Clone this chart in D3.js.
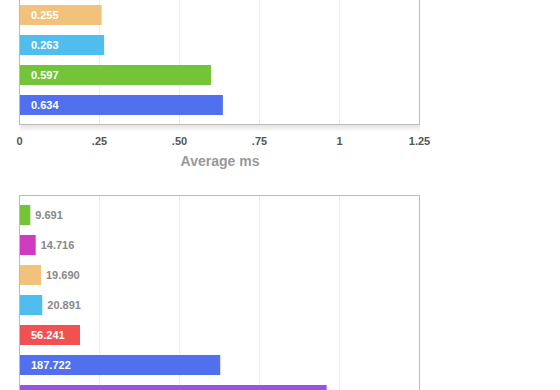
<!DOCTYPE html>
<html>
<head>
<meta charset="utf-8">
<script src="https://cdn.jsdelivr.net/npm/d3@7"></script>
<style>
  body { margin: 0; background: #fff; }
  text { font-family: "Liberation Sans", Arial, sans-serif; font-weight: bold; }
</style>
</head>
<body>
<div id="chart"></div>
<script>
// top chart (its upper bars are scrolled out of view)
var topValues = [0.255, 0.263, 0.597, 0.634];
var topColors = ["#f0c27c", "#4fbdee", "#74c43a", "#5070ee"];
var topTicks = [0, 0.25, 0.5, 0.75, 1, 1.25];
var topTickLabels = ["0", ".25", ".50", ".75", "1", "1.25"];
var axisTitle = "Average ms";

// bottom chart (cut at the bottom of the window)
var bottomValues = [9.691, 14.716, 19.690, 20.891, 56.241, 187.722, 287.5];
var bottomColors = ["#74c43a", "#d03cc0", "#f0c27c", "#4fbdee", "#f05252", "#5070ee", "#9b50e6"];
var bottomTicks = [0, 75, 150, 225, 300, 375];

var w = 560, h = 390;

var svg = d3.select("#chart")
  .append("svg")
  .attr("width", w)
  .attr("height", h);

var defs = svg.append("defs");
var grad = defs.append("linearGradient")
  .attr("id", "shadow")
  .attr("x1", 0).attr("y1", 0).attr("x2", 0).attr("y2", 1);
grad.append("stop").attr("offset", "0%").attr("stop-color", "#e4e4e4");
grad.append("stop").attr("offset", "100%").attr("stop-color", "#fff");

function bar_chart(values, colors, ticks, xmax, top, bottom, frameTop, frameBottom) {
  var x = d3.scaleLinear().domain([0, xmax]).range([20, 420]);
  var y = d3.scaleBand()
    .domain(d3.range(values.length))
    .range([top, bottom])
    .paddingInner(1 / 3)
    .paddingOuter(1 / 6);

  var g = svg.append("g");

  // grid lines
  g.selectAll("line.grid")
    .data(ticks.slice(1, -1))
    .enter()
    .append("line")
    .attr("x1", function(d) { return x(d) - 0.5; })
    .attr("x2", function(d) { return x(d) - 0.5; })
    .attr("y1", frameTop)
    .attr("y2", frameBottom)
    .style("stroke", "#ebebeb");

  // bars
  g.selectAll("rect.bar")
    .data(values)
    .enter()
    .append("rect")
    .attr("x", x(0))
    .attr("y", function(d, i) { return y(i); })
    .attr("width", function(d) { return x(d) - x(0); })
    .attr("height", y.bandwidth())
    .style("fill", function(d, i) { return colors[i]; });

  // frame
  g.append("rect")
    .attr("x", x(0) - 0.5)
    .attr("y", frameTop)
    .attr("width", x(xmax) - x(0))
    .attr("height", frameBottom - frameTop)
    .style("fill", "none")
    .style("stroke", "#bbb");

  // value labels (only for bars whose middle is inside the window)
  g.selectAll("text.value")
    .data(values.filter(function(d, i) { return y(i) + y.bandwidth() / 2 < h; }))
    .enter()
    .append("text")
    .attr("y", function(d, i) { return y(i) + y.bandwidth() / 2; })
    .attr("dy", "0.35em")
    .style("font-size", "11px")
    .text(function(d) { return d.toFixed(3); })
    .each(function(d) {
      var t = d3.select(this);
      var len = this.getComputedTextLength();
      var bw = x(d) - x(0);
      if (len + 16 < bw) {
        t.attr("x", x(0) + 11).style("fill", "#fff");
      } else {
        t.attr("x", x(d) + 5).style("fill", "#888");
      }
    });

  return { g: g, x: x };
}

var c1 = bar_chart(topValues, topColors, topTicks, 1.25, 0, 120, -20.5, 124.5);

// soft shadow under the top frame
c1.g.insert("rect", ":first-child")
  .attr("x", 20)
  .attr("y", 125)
  .attr("width", 400)
  .attr("height", 7)
  .style("fill", "url(#shadow)");

// x axis tick labels
c1.g.selectAll("text.tick")
  .data(topTicks)
  .enter()
  .append("text")
  .attr("x", function(d) { return c1.x(d) - 0.5; })
  .attr("y", 141)
  .attr("dy", "0.35em")
  .attr("text-anchor", "middle")
  .style("font-size", "11px")
  .style("fill", "#555")
  .text(function(d, i) { return topTickLabels[i]; });

c1.g.append("text")
  .attr("x", 220)
  .attr("y", 161)
  .attr("dy", "0.35em")
  .attr("text-anchor", "middle")
  .style("font-size", "14px")
  .style("fill", "#999")
  .text(axisTitle);

bar_chart(bottomValues, bottomColors, bottomTicks, 375, 200, 410, 195.5, 414.5);
</script>
</body>
</html>
